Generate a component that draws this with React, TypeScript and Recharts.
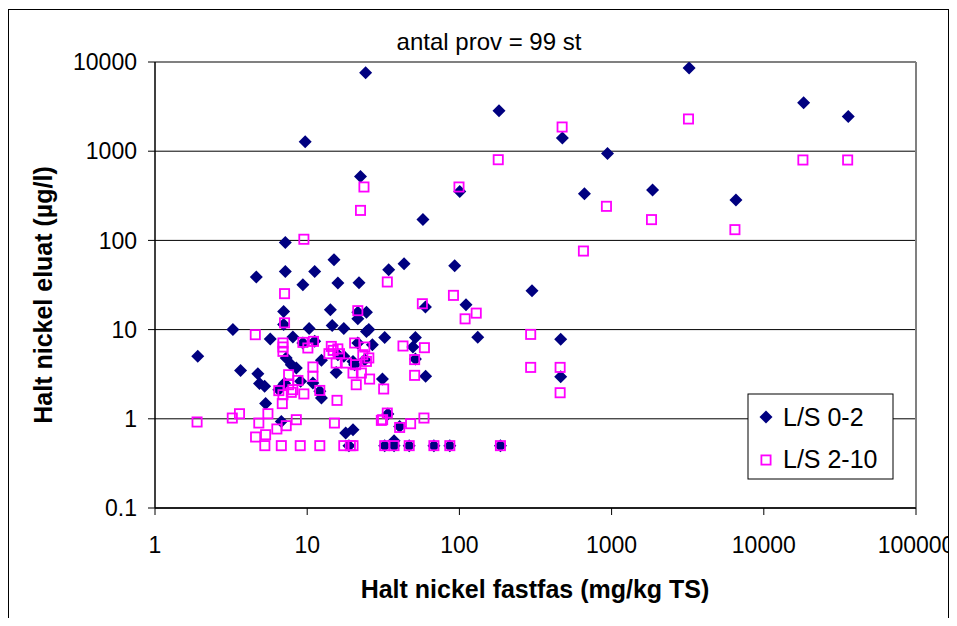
import { ScatterChart, Scatter, XAxis, YAxis, CartesianGrid, ReferenceLine } from 'recharts';

// L/S 0-2 (diamonds)
const ls02X = [
  24.2, 9.7, 22.4, 3230, 182, 475, 940, 663, 1858, 57.6, 100.5, 18270, 35870, 6560, 300, 463, 463,
  34.3, 43.3, 93.1, 110.5, 59.8, 32.3, 51.4, 132, 49.5, 51.4, 60, 31.2, 33.9, 40.5, 37.2,
  32.3, 37.2, 46.8, 68, 86.5, 186, 18.8, 20, 17.9, 6.76, 5.33,
  7.18, 15, 7.18, 11.2, 4.63, 9.37, 15.9, 21.9, 14.2, 7, 21.5, 24.5, 21.5, 7, 3.25, 10.3, 14.6,
  17.4, 24.5, 25.4, 5.72, 8.05, 11.2, 9.37, 21.5, 26.8, 1.91, 7.28, 12.4, 17.4, 20, 7.86, 8.48,
  3.65, 15.5, 4.74, 9.05, 4.86, 5.25, 10.9, 12.4, 6.51, 15.9, 20.5, 23.9, 7.1, 12.1,
];
const ls02Y = [
  7590, 1280, 522, 8570, 2845, 1406, 945, 334, 367, 172, 354, 3497, 2455, 284, 27.3, 7.77, 2.97,
  46.9, 54.8, 52, 19, 17.9, 8.18, 8.18, 8.2, 6.38, 4.68, 2.99, 2.79, 1.13, 0.82, 0.568,
  0.5, 0.5, 0.5, 0.5, 0.5, 0.5, 0.5, 0.755, 0.693, 0.935, 1.48,
  95, 60.8, 44.9, 44.9, 38.9, 31.9, 33.3, 33.5, 16.7, 16, 15.6, 15.6, 13.2, 11.4, 10, 10.3, 11.1,
  10.3, 9.55, 10, 7.85, 8.26, 7.38, 7.08, 7.08, 6.77, 5.01, 4.81, 4.52, 5.01, 4.4, 4.04, 3.71,
  3.49, 3.31, 3.2, 2.63, 2.48, 2.31, 2.52, 1.71, 2.12, 5.23, 4.04, 4.6, 2.5, 2.03,
];

// L/S 2-10 (squares)
const ls210X = [
  23.6, 22.4, 9.51, 473, 180, 99.4, 925, 1829, 3200, 18070, 35560, 6460, 653, 33.6, 91.4, 57.1,
  129, 109, 294, 42.6, 58.9, 50.8, 294, 459, 50.8, 31.8, 459, 33.6, 31.3, 40.5, 47.8, 58.5,
  32.3, 37.2, 46.8, 68, 86.5, 186,
  7.1, 7.1, 21.5, 4.56, 6.93, 6.93, 6.93, 9.37, 11, 10.1, 14.4, 14.8, 13.9, 15.9, 20.5, 23.9,
  23.2, 16.3, 15.5, 18.1, 20.8, 24.5, 25.4, 20, 22.7, 21, 25.7, 10.9, 10.9, 7.55, 8.69, 7.55,
  8.05, 6.51, 6.93, 9.51, 12.1, 6.86, 15.7, 1.89, 3.22, 3.59, 5.52, 4.81, 8.48, 15.1, 30.7,
  4.58, 5.33, 5.27, 6.32, 7.28, 6.76, 9, 12.1, 17.4, 19.2, 20, 7.86,
];
const ls210Y = [
  397, 217, 103, 1867, 803, 397, 241, 171, 2297, 797, 797, 132, 76, 34.2, 24.2, 19.5,
  15.3, 13.2, 8.84, 6.55, 6.27, 4.61, 3.77, 3.77, 3.07, 2.16, 1.96, 1.16, 0.977, 0.8, 0.881, 1.02,
  0.5, 0.5, 0.5, 0.5, 0.5, 0.5,
  25.3, 11.9, 16.3, 8.77, 7.08, 6.38, 5.7, 7.19, 7.38, 6.22, 6.48, 5.85, 5.37, 6.08, 7.08, 6.38,
  5.23, 5.37, 4.22, 4.22, 4.04, 4.4, 4.81, 3.26, 3.26, 2.41, 2.79, 3.81, 2.99, 3.12, 2.69, 2.41,
  2.12, 2.07, 1.86, 1.9, 2.08, 1.48, 1.61, 0.921, 1.02, 1.14, 1.14, 0.897, 0.977, 0.897, 0.96,
  0.625, 0.663, 0.5, 0.769, 0.837, 0.5, 0.5, 0.5, 0.5, 0.5, 0.5, 1.98,
];

const xTicks = [1, 10, 100, 1000, 10000, 100000];
const yTicks = [0.1, 1, 10, 100, 1000, 10000];

const seriesNames = ['L/S 0-2', 'L/S 2-10'];

const ls02 = ls02X.map((x, i) => ({ x, y: ls02Y[i] }));
const ls210 = ls210X.map((x, i) => ({ x, y: ls210Y[i] }));

const FONT = '"Liberation Sans", Arial, sans-serif';

const Diamond = (props: any) => {
  const { cx, cy } = props;
  if (cx == null || cy == null) return null;
  const r = 6.5;
  return <path d={`M${cx},${cy - r}L${cx + r},${cy}L${cx},${cy + r}L${cx - r},${cy}Z`} fill="#000080" />;
};

const Square = (props: any) => {
  const { cx, cy } = props;
  if (cx == null || cy == null) return null;
  const s = 4.6;
  return <rect x={cx - s} y={cy - s} width={s * 2} height={s * 2} fill="none" stroke="#FF00FF" strokeWidth={1.8} />;
};

export default function App() {
  const tickStyle = { fontSize: 23, fill: '#000', fontFamily: FONT };
  return (
    <div style={{ position: 'relative', width: 957, height: 626, margin: -8, overflow: 'hidden', background: '#fff', fontFamily: FONT }}>
      <div style={{ position: 'absolute', left: 8, top: 9, width: 941, height: 700, border: '1.5px solid #000', boxSizing: 'border-box' }} />
      <div style={{ position: 'absolute', left: 0, top: 0 }}>
        <ScatterChart width={957} height={626} margin={{ top: 62, right: 41, bottom: 58, left: 0 }}>
          <CartesianGrid vertical={false} stroke="#000" strokeWidth={1} />
          <XAxis
            type="number"
            dataKey="x"
            scale="log"
            domain={[1, 100000]}
            ticks={xTicks}
            allowDataOverflow
            height={60}
            tickSize={7}
            tickMargin={22}
            tick={tickStyle}
            axisLine={{ stroke: '#000', strokeWidth: 1.5 }}
            tickLine={{ stroke: '#000' }}
            interval={0}
          />
          <YAxis
            type="number"
            dataKey="y"
            scale="log"
            domain={[0.1, 10000]}
            ticks={yTicks}
            allowDataOverflow
            width={155}
            tickSize={7}
            tickMargin={11}
            tick={tickStyle}
            axisLine={{ stroke: '#000', strokeWidth: 1.5 }}
            tickLine={{ stroke: '#000' }}
            interval={0}
          />
          <ReferenceLine y={10000} stroke="#808080" strokeWidth={2} />
          <ReferenceLine x={100000} stroke="#808080" strokeWidth={2} />
          <Scatter name={seriesNames[0]} data={ls02} shape={Diamond} isAnimationActive={false} />
          <Scatter name={seriesNames[1]} data={ls210} shape={Square} isAnimationActive={false} />
        </ScatterChart>
      </div>
      <svg width={957} height={626} style={{ position: 'absolute', left: 0, top: 0, pointerEvents: 'none' }}>
        <text x={489} y={50} textAnchor="middle" fontSize={24} fontFamily={FONT} fill="#000">
          antal prov = 99 st
        </text>
        <text x={535} y={598} textAnchor="middle" fontSize={25} fontWeight="bold" fontFamily={FONT} fill="#000">
          Halt nickel fastfas (mg/kg TS)
        </text>
        <text
          x={52}
          y={295}
          textAnchor="middle"
          fontSize={25}
          fontWeight="bold"
          fontFamily={FONT}
          fill="#000"
          transform="rotate(-90 52 295)"
        >
          Halt nickel eluat (µg/l)
        </text>
        <rect x={748} y={394} width={145} height={85} fill="#fff" stroke="#000" strokeWidth={1} />
        <path d="M766,410.5L772.5,417L766,423.5L759.5,417Z" fill="#000080" />
        <text x={783} y={426} fontSize={25} fontFamily={FONT} fill="#000">
          {seriesNames[0]}
        </text>
        <rect x={761.4} y={455.4} width={9.2} height={9.2} fill="none" stroke="#FF00FF" strokeWidth={1.8} />
        <text x={783} y={468} fontSize={25} fontFamily={FONT} fill="#000">
          {seriesNames[1]}
        </text>
      </svg>
    </div>
  );
}
